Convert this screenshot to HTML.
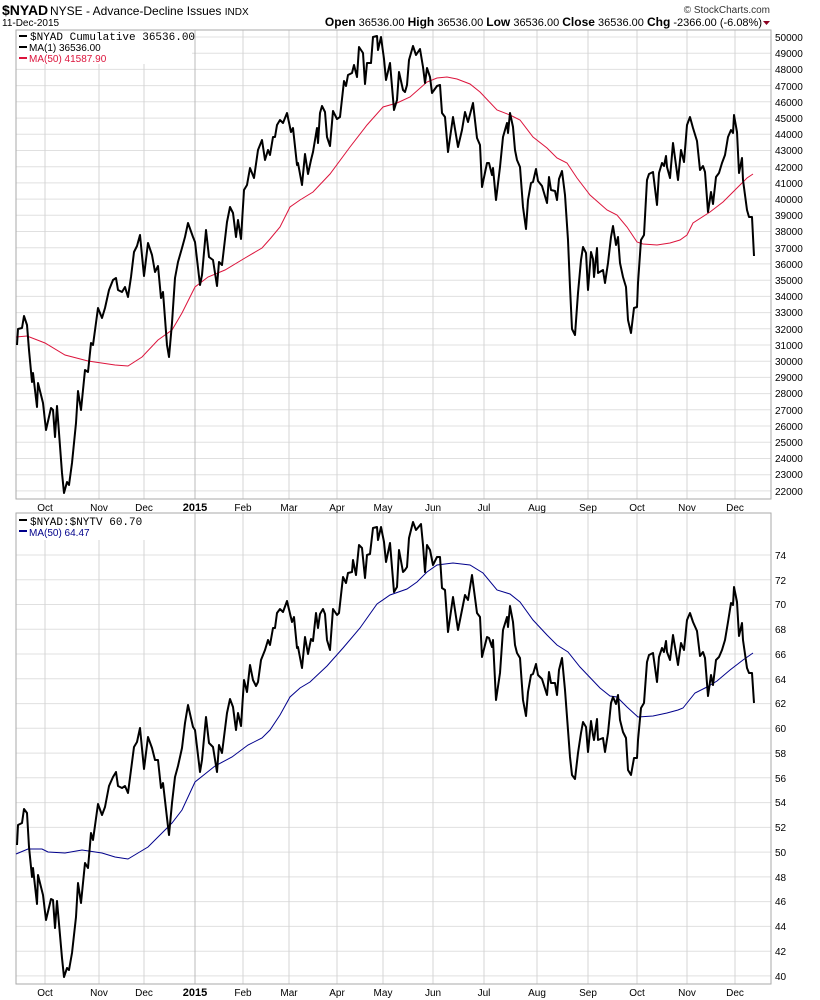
<!DOCTYPE html>
<html><head><meta charset="utf-8"><style>
body{margin:0;background:#fff;}
svg{display:block;font-family:"Liberation Sans",sans-serif;}
</style></head><body>
<svg width="820" height="1000" viewBox="0 0 820 1000" xmlns="http://www.w3.org/2000/svg">
<rect width="820" height="1000" fill="#fff"/>
<text x="2" y="15" font-size="14" font-weight="bold">$NYAD</text>
<text x="50" y="15" font-size="12">NYSE - Advance-Decline Issues <tspan font-size="10">INDX</tspan></text>
<text x="2" y="26" font-size="10">11-Dec-2015</text>
<text x="770" y="13" font-size="10" text-anchor="end" fill="#333">© StockCharts.com</text>
<text x="762" y="26" font-size="11" text-anchor="end"><tspan font-weight="bold" font-size="12">Open</tspan> 36536.00 <tspan font-weight="bold" font-size="12"> High</tspan> 36536.00 <tspan font-weight="bold" font-size="12"> Low</tspan> 36536.00 <tspan font-weight="bold" font-size="12"> Close</tspan> 36536.00 <tspan font-weight="bold" font-size="12"> Chg</tspan> -2366.00 (-6.08%)</text>
<polygon points="763,21 770,21 766.5,25" fill="#8b0020"/>

<g stroke="#e0e0e0" stroke-width="1">
<path d="M16 37H771M16 53.2H771M16 69.4H771M16 85.6H771M16 101.8H771M16 118.1H771M16 134.3H771M16 150.5H771M16 166.7H771M16 182.9H771M16 199.1H771M16 215.3H771M16 231.5H771M16 247.7H771M16 263.9H771M16 280.2H771M16 296.4H771M16 312.6H771M16 328.8H771M16 345H771M16 361.2H771M16 377.4H771M16 393.6H771M16 409.8H771M16 426H771M16 442.3H771M16 458.5H771M16 474.7H771M16 490.9H771"/>
<path d="M16 555H771M16 579.8H771M16 604.5H771M16 629.3H771M16 654H771M16 678.8H771M16 703.6H771M16 728.3H771M16 753.1H771M16 777.8H771M16 802.6H771M16 827.4H771M16 852.1H771M16 876.9H771M16 901.6H771M16 926.4H771M16 951.2H771M16 975.9H771"/>
</g>
<g stroke="#d4d4d4" stroke-width="1">
<path d="M45 30V499M99 30V499M144 30V499M243 30V499M289 30V499M337 30V499M383 30V499M433 30V499M484 30V499M537 30V499M588 30V499M637 30V499M687 30V499M735 30V499"/>
<path d="M45 513V984M99 513V984M144 513V984M243 513V984M289 513V984M337 513V984M383 513V984M433 513V984M484 513V984M537 513V984M588 513V984M637 513V984M687 513V984M735 513V984"/>
</g>
<g stroke="#bbb"><path d="M195 30V499M195 513V984"/></g>
<rect x="16" y="30" width="755" height="469" fill="none" stroke="#aaa"/>
<rect x="16" y="513" width="755" height="471" fill="none" stroke="#aaa"/>

<g font-size="10" fill="#000">
<text x="775" y="41">50000</text><text x="775" y="57">49000</text><text x="775" y="73">48000</text><text x="775" y="90">47000</text><text x="775" y="106">46000</text><text x="775" y="122">45000</text><text x="775" y="138">44000</text><text x="775" y="154">43000</text><text x="775" y="171">42000</text><text x="775" y="187">41000</text><text x="775" y="203">40000</text><text x="775" y="219">39000</text><text x="775" y="235">38000</text><text x="775" y="252">37000</text><text x="775" y="268">36000</text><text x="775" y="284">35000</text><text x="775" y="300">34000</text><text x="775" y="316">33000</text><text x="775" y="333">32000</text><text x="775" y="349">31000</text><text x="775" y="365">30000</text><text x="775" y="381">29000</text><text x="775" y="397">28000</text><text x="775" y="414">27000</text><text x="775" y="430">26000</text><text x="775" y="446">25000</text><text x="775" y="462">24000</text><text x="775" y="478">23000</text><text x="775" y="495">22000</text>
<text x="775" y="559">74</text><text x="775" y="584">72</text><text x="775" y="608">70</text><text x="775" y="633">68</text><text x="775" y="658">66</text><text x="775" y="683">64</text><text x="775" y="707">62</text><text x="775" y="732">60</text><text x="775" y="757">58</text><text x="775" y="782">56</text><text x="775" y="806">54</text><text x="775" y="831">52</text><text x="775" y="856">50</text><text x="775" y="881">48</text><text x="775" y="905">46</text><text x="775" y="930">44</text><text x="775" y="955">42</text><text x="775" y="980">40</text>
</g>
<g font-size="10" text-anchor="middle">
<text x="45" y="511">Oct</text><text x="99" y="511">Nov</text><text x="144" y="511">Dec</text><text x="195" y="511" font-weight="bold" font-size="11">2015</text><text x="243" y="511">Feb</text><text x="289" y="511">Mar</text><text x="337" y="511">Apr</text><text x="383" y="511">May</text><text x="433" y="511">Jun</text><text x="484" y="511">Jul</text><text x="537" y="511">Aug</text><text x="588" y="511">Sep</text><text x="637" y="511">Oct</text><text x="687" y="511">Nov</text><text x="735" y="511">Dec</text>
<text x="45" y="996">Oct</text><text x="99" y="996">Nov</text><text x="144" y="996">Dec</text><text x="195" y="996" font-weight="bold" font-size="11">2015</text><text x="243" y="996">Feb</text><text x="289" y="996">Mar</text><text x="337" y="996">Apr</text><text x="383" y="996">May</text><text x="433" y="996">Jun</text><text x="484" y="996">Jul</text><text x="537" y="996">Aug</text><text x="588" y="996">Sep</text><text x="637" y="996">Oct</text><text x="687" y="996">Nov</text><text x="735" y="996">Dec</text>
</g>

<polyline fill="none" stroke="#dc143c" stroke-width="1" points="16,337 27,336 45,343 65,355 88,361 115,365 128,366 142,357 158,340 172,330 182,313 195,287 208,277 225,270 245,258 262,248 270,239 280,227 290,207 300,200 313,192 330,174 350,147 367,125 383,107 397,103 410,97 427,82 437,78 447,77 457,79 470,84 480,92 497,110 510,115 520,120 533,137 547,148 557,158 567,163 577,178 590,195 607,210 617,215 627,227 637,242 643,244 657,245 670,243 680,240 687,235 693,223 710,212 723,202 737,188 747,178 753,174"/>
<polyline fill="none" stroke="#000" stroke-width="2" stroke-linejoin="round" points="17,345 18,329 22,328 24,316 27,325 29,350 32,382 33,373 37,407 38,383 43,403 46,430 51,408 53,410 55,437 57,406 62,473 64,493 67,482 69,485 72,463 76,423 78,391 81,410 85,370 88,372 91,343 93,345 98,308 102,318 105,308 109,290 113,280 116,278 118,290 122,292 125,287 128,297 131,277 134,252 137,246 140,235 144,276 148,243 152,255 155,272 158,266 161,298 163,292 167,345 169,357 172,323 175,278 178,262 182,248 185,237 188,223 193,237 195,242 200,285 202,275 206,230 209,257 213,260 217,286 219,262 222,265 227,222 230,207 233,213 236,237 238,220 241,239 244,190 247,185 250,168 254,178 258,150 262,140 265,160 268,150 270,155 273,137 275,137 277,125 280,120 283,123 287,113 291,132 293,128 297,165 298,163 302,185 305,154 308,174 311,160 313,152 317,128 318,143 320,113 322,106 325,112 327,137 330,146 333,111 337,119 340,117 344,81 346,86 348,75 352,73 354,65 357,77 359,47 363,53 365,84 367,63 371,63 373,37 377,36 378,50 381,37 384,59 386,80 390,63 394,110 397,100 399,72 403,90 405,92 407,85 409,60 413,46 416,55 420,49 423,67 425,83 427,68 430,77 432,93 437,86 440,85 442,113 445,117 448,152 453,117 458,147 462,130 465,112 468,122 473,103 477,138 480,145 482,187 487,163 489,163 492,175 493,168 496,200 500,167 503,137 507,123 508,133 510,113 513,127 515,150 517,160 520,167 523,207 526,229 528,200 531,183 533,182 536,169 538,181 542,186 547,203 549,177 551,190 555,191 557,200 559,179 562,171 565,195 568,240 570,287 572,329 575,335 578,293 581,260 583,247 586,253 588,290 591,252 593,259 594,277 597,248 598,273 603,270 605,283 608,263 611,237 613,226 616,245 618,237 620,263 623,277 626,287 628,320 631,333 634,308 637,307 638,283 641,240 644,235 647,180 649,174 653,172 657,205 659,173 662,163 664,166 666,156 667,167 670,178 673,143 678,180 681,150 684,162 687,125 690,117 693,128 697,141 700,170 703,166 705,172 708,212 711,192 713,204 716,177 719,173 722,163 725,155 728,137 731,130 733,133 734,115 737,132 739,173 742,158 743,180 747,210 749,217 752,217 754,256"/>

<polyline fill="none" stroke="#00008b" stroke-width="1" points="16,854 28,849 42,849 48,852 65,853 82,850 102,853 115,857 128,859 138,853 148,847 162,833 172,823 182,810 195,782 215,766 232,757 248,745 262,738 270,730 280,715 290,697 300,688 310,682 327,666 343,648 360,628 377,604 390,595 407,589 417,582 427,572 437,565 453,563 470,565 483,573 497,590 510,594 520,602 533,620 547,635 557,645 568,652 580,667 600,688 610,696 617,697 627,707 638,717 653,716 667,713 678,710 683,708 695,693 707,687 717,681 730,670 743,660 753,653"/>
<polyline fill="none" stroke="#000" stroke-width="2" stroke-linejoin="round" points="17,845 18,825 22,823 24,809 27,813 29,847 32,877 33,868 37,904 38,875 43,895 46,920 51,899 53,900 55,928 57,901 62,958 64,977 67,968 69,970 72,953 76,917 78,883 81,903 85,863 88,868 91,833 93,840 98,804 102,815 105,807 109,786 113,777 116,772 118,786 122,788 125,786 128,793 131,770 134,747 137,742 140,728 144,769 148,737 152,748 155,760 158,760 161,788 163,783 167,818 169,835 172,803 175,777 178,766 182,748 185,723 188,705 193,727 195,730 200,772 202,760 206,717 209,743 213,747 217,772 219,745 222,753 227,713 230,699 233,707 236,730 238,713 241,726 244,680 247,692 250,665 253,680 256,686 258,682 261,660 265,650 268,640 270,645 273,628 275,628 277,613 280,609 283,612 287,601 292,622 294,617 297,648 298,647 302,668 305,637 308,654 311,639 313,641 316,613 318,628 320,614 323,609 325,614 327,640 330,650 333,609 337,615 339,613 343,577 346,583 348,573 352,572 353,560 356,575 359,545 362,548 365,578 367,555 370,554 373,528 377,527 378,540 381,527 384,542 386,562 390,543 394,592 397,587 399,550 403,572 405,570 407,567 409,538 413,522 416,530 421,524 423,545 425,572 427,545 430,550 433,565 437,557 440,557 442,588 445,590 448,632 453,597 458,630 462,610 465,595 468,600 472,575 477,613 480,617 482,657 487,637 489,638 492,647 493,640 496,700 500,673 503,630 507,617 508,627 510,606 513,622 515,645 517,653 520,658 523,700 526,716 528,692 531,675 533,674 536,664 538,675 542,679 547,695 549,672 551,683 555,683 557,695 559,670 562,658 565,690 568,730 570,757 572,775 575,779 578,753 581,733 583,722 586,727 588,752 591,721 593,735 594,740 597,719 598,740 603,738 605,752 608,733 611,703 613,697 616,704 618,695 620,720 623,732 626,738 628,770 631,775 634,758 637,758 638,740 641,708 644,703 647,662 649,655 653,653 657,682 659,657 662,648 664,652 666,641 667,652 670,660 673,635 678,665 681,643 684,650 687,620 690,613 693,622 697,631 700,656 703,652 705,658 708,696 711,675 713,685 716,660 719,657 722,650 725,640 728,622 731,603 733,605 734,587 737,602 739,636 742,623 743,640 747,668 749,673 752,673 754,703"/>

<rect x="17" y="31" width="175" height="33" fill="#fff"/>
<g font-size="11">
<rect x="19" y="35" width="8" height="2" fill="#000"/>
<text x="30" y="40" font-family="Liberation Mono, monospace" font-size="11">$NYAD Cumulative 36536.00</text>
<rect x="19" y="46" width="8" height="2" fill="#000"/>
<text x="29" y="51" font-size="10">MA(1) 36536.00</text>
<rect x="19" y="57" width="8" height="2" fill="#dc143c"/>
<text x="29" y="62" font-size="10" fill="#dc143c">MA(50) 41587.90</text>
</g>
<rect x="17" y="514" width="130" height="26" fill="#fff"/>
<rect x="19" y="519" width="8" height="2" fill="#000"/>
<text x="30" y="525" font-family="Liberation Mono, monospace" font-size="11">$NYAD:$NYTV 60.70</text>
<rect x="19" y="530" width="8" height="2" fill="#00008b"/>
<text x="29" y="536" font-size="10" fill="#00008b">MA(50) 64.47</text>
</svg>
</body></html>
